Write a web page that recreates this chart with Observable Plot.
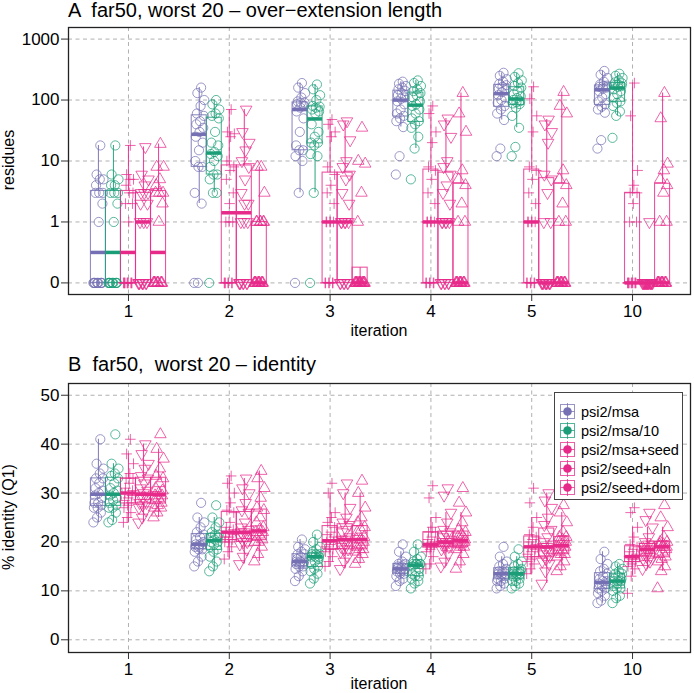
<!DOCTYPE html>
<html><head><meta charset="utf-8">
<script src="https://cdn.jsdelivr.net/npm/d3@7"></script>
<script src="https://cdn.jsdelivr.net/npm/@observablehq/plot@0.6"></script>
<style>
body{margin:0;background:#fff;font-family:"Liberation Sans",Arial,Helvetica,sans-serif;}
#wrap{position:relative;width:694px;height:693px;overflow:hidden;background:#fff}
.abs{position:absolute;white-space:nowrap;color:#000;line-height:1}
.c{transform:translate(-50%,-50%)}
.r{transform:translate(-50%,-50%) rotate(-90deg)}
#legend{position:absolute;left:554px;top:392px;width:129px;height:108px;border:1px solid #444;background:#fff;box-sizing:border-box}
.le{position:absolute;left:4px;height:19px;display:flex;align-items:center;font-size:14.5px}
.le svg{margin-right:5px}
</style></head><body><div id="wrap"></div>
<script>
const FONT = '"Liberation Sans", Arial, Helvetica, sans-serif';
const iterations = ["1","2","3","4","5","10"];
const series = ["psi2/msa","psi2/msa/10","psi2/msa+seed","psi2/seed+aln","psi2/seed+dom"];
const colors = ["#7570B3","#1B9E77","#E7298A","#E7298A","#E7298A"];
const symbolKinds = ["circle","circle","plus","triangleDown","triangleUp"];
const ticksA = [0, 1, 10, 100, 1000];
const ticksB = [0, 10, 20, 30, 40, 50];

// Panel A: over-extension length (residues), 20 worst per iteration
const overMsa = [
 [0,0,0,0,0,0,0,0,0,0,1,2,3,3,3,4,5,5,6,18],
 [0,0,2,3,8,8,10,15,20,25,30,35,40,45,55,60,80,100,130,160],
 [0,3,10,12,15,15,18,30,50,65,75,80,85,90,90,95,110,130,160,190],
 [6,12,36,45,50,55,60,70,85,95,105,110,120,130,140,150,160,170,185,200],
 [12,16,47,60,70,80,90,100,110,120,135,145,155,165,175,185,200,220,250,280],
 [16,22,62,70,78,85,95,110,125,140,155,160,165,170,172,180,200,230,260,300]
];
const overMsa10 = [
 [0,0,0,0,0,0,0,0,0,0,1,2,3,3,3,4,4,5,6,18],
 [0,3,3,5,6,6,8,10,12,13,14,18,20,30,50,55,60,70,85,100],
 [0,3,12,13,18,20,20,25,30,40,60,65,70,75,78,80,100,120,150,180],
 [5,16,25,35,40,45,50,60,70,80,85,95,110,120,130,140,150,170,190,210],
 [12,17,35,55,75,86,88,92,96,100,108,115,125,140,160,170,190,210,240,275],
 [24,55,65,80,90,95,110,125,140,150,165,170,175,180,188,195,210,230,250,270]
];
const overMsaSeed = [
 [0,0,0,0,0,0,0,0,0,0,1,2,2,3,3,4,5,5,6,18],
 [0,0,0,0,0,0,0,1,1,1,2,3,5,7,8,10,25,28,30,70],
 [0,0,0,0,0,0,1,1,1,1,1,2,3,4,6,8,25,30,40,48],
 [0,0,0,0,0,0,1,1,1,1,1,2,3,5,7,8,20,30,60,80],
 [0,0,0,0,0,0,1,1,1,1,1,2,3,5,7,8,30,55,105,165],
 [0,0,0,0,0,0,0,0,0,0,0,1,1,2,3,3,4,7,55,190]
];
const overSeedAln = [
 [0,0,0,0,0,0,0,0,1,1,1,2,2,3,3,3,4,5,6,17],
 [0,0,0,0,0,0,0,1,1,1,2,2,3,5,8,10,15,20,30,70],
 [0,0,0,0,0,0,1,1,1,1,1,2,3,5,6,8,10,22,40,45],
 [0,0,0,0,0,0,1,1,1,1,1,2,3,4,6,8,10,25,40,50],
 [0,0,0,0,0,0,0,0,0,0,0,1,1,3,5,6,20,30,40,48],
 [0,0,0,0,0,0,0,0,0,0,0,0,0,0,0,0,0,0,0,1]
];
const overSeedDom = [
 [0,0,0,0,0,0,0,0,0,0,1,2,3,3,3,4,5,8,8,19],
 [0,0,0,0,0,0,0,0,0,0,0,1,1,1,1,1,1,3,8,8],
 [0,0,0,0,0,0,0,0,0,0,0,0,0,0,0,1,3,9,10,35],
 [0,0,0,0,0,0,0,0,0,0,0,1,1,2,4,5,7,30,60,130],
 [0,0,0,0,0,0,0,0,0,0,0,1,1,2,4,5,7,60,80,135],
 [0,0,0,0,0,0,0,0,0,0,0,1,1,3,4,5,7,9,50,130]
];

// Panel B: % identity (Q1)
const identMsa = [
 [24,25,26,27,27,27.5,28,28,29,29.5,30,30.5,31,32,33,33,34,35,36,41],
 [15,16,17,18,18.5,18.5,19,19,19.5,19.5,19.5,20,20.5,21,21.5,22,23,24,25,28],
 [12,13,14,14.5,15,15,15.5,15.5,15.5,16,16,16,16.5,17,17.5,17.5,18,18.5,19,20.5],
 [11,12,12.5,13,13.5,13.5,14,14,14,14.5,14.5,14.5,15,15,15.5,15.5,16,17,18,19.5],
 [10.5,11,11.5,12,12,12.5,12.5,13,13,13.5,13.5,13.5,14,14,14.5,15,15.5,16,17,19],
 [7.5,8,9,9.5,10,10.5,10.5,11,11.5,11.5,12,12,12.5,13,13.5,14,14.5,15.5,16.5,18]
];
const identMsa10 = [
 [24,24.5,26,27,27,27.5,28,28.5,29,29.5,30,30.5,31,32,33,33.5,34,35,36,42],
 [14,15,16,17,18,18.5,19,19.5,20,20,20.5,21,21,21.5,21.5,22,23,24,25,27.5],
 [11.5,12.5,13.5,14,14.5,15,15.5,16,16.5,17,17,17,17.5,17.5,17.5,18,18.5,19,20,21.5],
 [10.5,11.5,12,12.5,13,13,13.5,14,14.5,15,15.5,15.5,15.5,15.5,15.5,16,16.5,17,18,19.5],
 [10.5,11,11.5,12,12,12.5,13,13,13.5,13.5,13.5,14,14,14,14.5,15,15.5,16,17,18.5],
 [7.5,8.5,9,10,10.5,10.5,11,11.5,12,12,12,12.5,12.5,13,13.5,13.5,14,14.5,15,15.5]
];
const identMsaSeed = [
 [24,25,26,27,27.5,28,28.5,29,29.5,30,30,30.5,31,32,33,33,34,36,38,41],
 [16.5,18,19,20,20,20.5,21,21,21.5,22,22,22.5,23,24,26,26.5,28,30,32,33.5],
 [15,16,17,18,18.5,18.5,19,19.5,20,20,20.5,21,21.5,22,23,24,25,26,30,32],
 [14.5,15.5,17,18,18.5,19,19,19,19.5,19.5,19.5,20,20.5,21,22,22,23,25,29,31.5],
 [13.5,14.5,15.5,16,16.5,17,17.5,18,18.5,19,19,19.5,20,20.5,21,21.5,23,25,28,31],
 [9.5,13,14.5,15,15.5,16,16,16.5,16.5,17,17,17.5,18,18.5,19,19.5,21,23,26,27]
];
const identSeedAln = [
 [24,25,26.5,27,27.5,28,28,29,29.5,29.5,30,30.5,31,32,33,33.5,35,36,38,40],
 [15.5,17,18.5,19.5,20,20,21,21,21.5,22,22,22.5,23,24,26,26.5,28,30,31,33],
 [14.5,16,17,18,18.5,18.5,19,19.5,20,20.5,20.5,21,22,22.5,23.5,24,25,27,30,32],
 [15,16,17.5,18.5,19,19,19.5,19.5,20,20,20,20.5,21,21.5,22,22.5,24,26,29.5,31],
 [11.5,14,15.5,16,16.5,17,17.5,18,18.5,19,19,19.5,20,21,22.5,23.5,25,27,28.5,30],
 [14.5,15.5,16,16.5,17,17,17.5,18,18.5,18.5,18.5,19,19,19.5,19.5,20,21,23,24.5,26]
];
const identSeedDom = [
 [25,26,27,27,27.5,28,28.5,29,29.5,29.5,30,30.5,31,32,33,33.5,35,37,39,42],
 [16,17.5,19,20,20,20.5,21,21.5,22,22,22.5,23,24,25,26.5,27,29,31,33,34.5],
 [15.5,16.5,17.5,18,18.5,18.5,19,19.5,20,20.5,20.5,21,22,22.5,23,24,25,27,30,32.5],
 [14.5,16,17.5,18.5,19,19,19.5,19.5,20,20,20.5,20.5,21,21.5,22,22.5,24,26,28,31],
 [14,15,16,17,17.5,17.5,18,18.5,19,19,19.5,20,20,20.5,21,21,22,24,26,27.5],
 [10.5,14,15,16,16.5,17,17.5,18,18.5,19,19,19,19.5,19.5,20,20,21,23,25,27.5]
];

// ---- helpers ----
const boxW = 0.149;
const jit = i => (((i * 7) % 20) / 19 - 0.5) * 0.1;
const tlog = v => v === 0 ? -1 : Math.log10(v);
const ident = v => v;

const symbols = {
  circle: "circle",
  plus: {draw(c, size){ const r = Math.sqrt(size/Math.PI)*1.15; c.moveTo(-r,0); c.lineTo(r,0); c.moveTo(0,-r); c.lineTo(0,r); }},
  triangleUp: {draw(c, size){ const r = Math.sqrt(size/Math.PI)*1.45; c.moveTo(0,-r); c.lineTo(r*0.866,r*0.5); c.lineTo(-r*0.866,r*0.5); c.closePath(); }},
  triangleDown: {draw(c, size){ const r = Math.sqrt(size/Math.PI)*1.45; c.moveTo(0,r); c.lineTo(r*0.866,-r*0.5); c.lineTo(-r*0.866,-r*0.5); c.closePath(); }}
};

function build(groups, tf) {
  const pts = [], stats = [];
  groups.forEach((arr, s) => {
    arr.forEach((vals, g) => {
      const cx = g + (s - 2) * boxW;
      const t = vals.map(tf).sort(d3.ascending);
      const q1 = d3.quantile(t, 0.25), med = d3.quantile(t, 0.5), q3 = d3.quantile(t, 0.75);
      const iqr = q3 - q1;
      const lo = d3.min(t.filter(v => v >= q1 - 1.5 * iqr));
      const hi = d3.max(t.filter(v => v <= q3 + 1.5 * iqr));
      stats.push({series: series[s], cx, x1: cx - boxW / 2, x2: cx + boxW / 2, q1, med, q3, lo, hi});
      vals.forEach((v, i) => pts.push({series: series[s], s, x: cx + jit(i), y: tf(v)}));
    });
  });
  return {pts, stats};
}

function panel(groups, tf, yDomain, yTicks, yFmt, height, mt, mb) {
  const {pts, stats} = build(groups, tf);
  const grid = {stroke: "#b0b0b0", strokeOpacity: 1, strokeDasharray: "4,3.5", strokeWidth: 1};
  const marks = [
    Plot.gridY(yTicks, grid),
    Plot.gridX([0,1,2,3,4,5], grid),
    Plot.axisY(yTicks, {tickSize: 7, tickPadding: 2, tickFormat: yFmt, label: null, fontSize: 17, stroke: "#333"}),
    Plot.axisX([0,1,2,3,4,5], {tickSize: 7, tickPadding: 3, tickFormat: d => iterations[d], label: null, fontSize: 17, stroke: "#333"}),
    Plot.rect(stats, {x1: "x1", x2: "x2", y1: "q1", y2: "q3", stroke: "series", fill: "none", strokeOpacity: 0.8, strokeWidth: 1.1}),
    Plot.ruleX(stats, {x: "cx", y1: "q3", y2: "hi", stroke: "series", strokeOpacity: 0.85, strokeWidth: 1.1}),
    Plot.ruleX(stats, {x: "cx", y1: "lo", y2: "q1", stroke: "series", strokeOpacity: 0.85, strokeWidth: 1.1})
  ];
  series.forEach((name, s) => {
    marks.push(Plot.dot(pts.filter(d => d.s === s), {x: "x", y: "y", r: 4.6, symbol: symbols[symbolKinds[s]], stroke: colors[s], fill: "none", strokeOpacity: 0.72, strokeWidth: 1}));
  });
  marks.push(Plot.ruleY(stats, {y: "med", x1: "x1", x2: "x2", stroke: "series", strokeWidth: 3.5}));
  marks.push(Plot.frame({stroke: "#222", strokeWidth: 1.3}));
  return Plot.plot({
    width: 694, height,
    marginLeft: 68, marginRight: 4, marginTop: mt, marginBottom: mb,
    x: {type: "linear", domain: [-0.595, 5.575]},
    y: {type: "linear", domain: yDomain},
    color: {domain: series, range: colors},
    style: {fontFamily: FONT, fontSize: "17px", color: "#000", background: "transparent", overflow: "visible"},
    marks
  });
}

const wrap = document.getElementById("wrap");
function place(el, top) { el.style.position = "absolute"; el.style.left = "0px"; el.style.top = top + "px"; wrap.appendChild(el); }

const svgA = panel([overMsa, overMsa10, overMsaSeed, overSeedAln, overSeedDom], tlog,
  [-1.19, 3.19], ticksA.map(tlog), d => String(ticksA[Math.round(d) + 1]), 330, 7, 56);
place(svgA, 20);

const svgB = panel([identMsa, identMsa10, identMsaSeed, identSeedAln, identSeedDom], ident,
  [-2.6, 52.4], ticksB, d => String(d), 318, 8, 41);
place(svgB, 375);

function text(str, left, top, cls, size) {
  const d = document.createElement("div");
  d.className = "abs " + (cls || "");
  d.textContent = str;
  d.style.left = left + "px"; d.style.top = top + "px"; d.style.fontSize = size + "px";
  wrap.appendChild(d);
  return d;
}
text("A  far50, worst 20 \u2013 over\u2212extension length", 68, 0, "", 20).style.whiteSpace = "pre";
text("iteration", 379, 331, "c", 16);
text("residues", 9, 160, "r", 16);
text("B  far50,  worst 20 \u2013 identity", 68, 354, "", 20).style.whiteSpace = "pre";
text("iteration", 379, 684, "c", 16);
text("% identity (Q1)", 9, 517, "r", 16);

// legend
const leg = document.createElement("div");
leg.id = "legend";
series.forEach((name, s) => {
  const e = document.createElement("div");
  e.className = "le";
  e.style.top = (9 + s * 19) + "px";
  const c = colors[s];
  e.innerHTML = `<svg width="17" height="17" viewBox="0 0 17 17"><rect x="1.5" y="1.5" width="14" height="14" fill="none" stroke="${c}" stroke-opacity="0.75"/><line x1="8.5" y1="0" x2="8.5" y2="17" stroke="${c}" stroke-opacity="0.75"/><line x1="1.5" y1="8.5" x2="15.5" y2="8.5" stroke="${c}" stroke-opacity="0.75"/><circle cx="8.5" cy="8.5" r="4.3" fill="${c}"/></svg><span>${name}</span>`;
  leg.appendChild(e);
});
wrap.appendChild(leg);
</script></body></html>
